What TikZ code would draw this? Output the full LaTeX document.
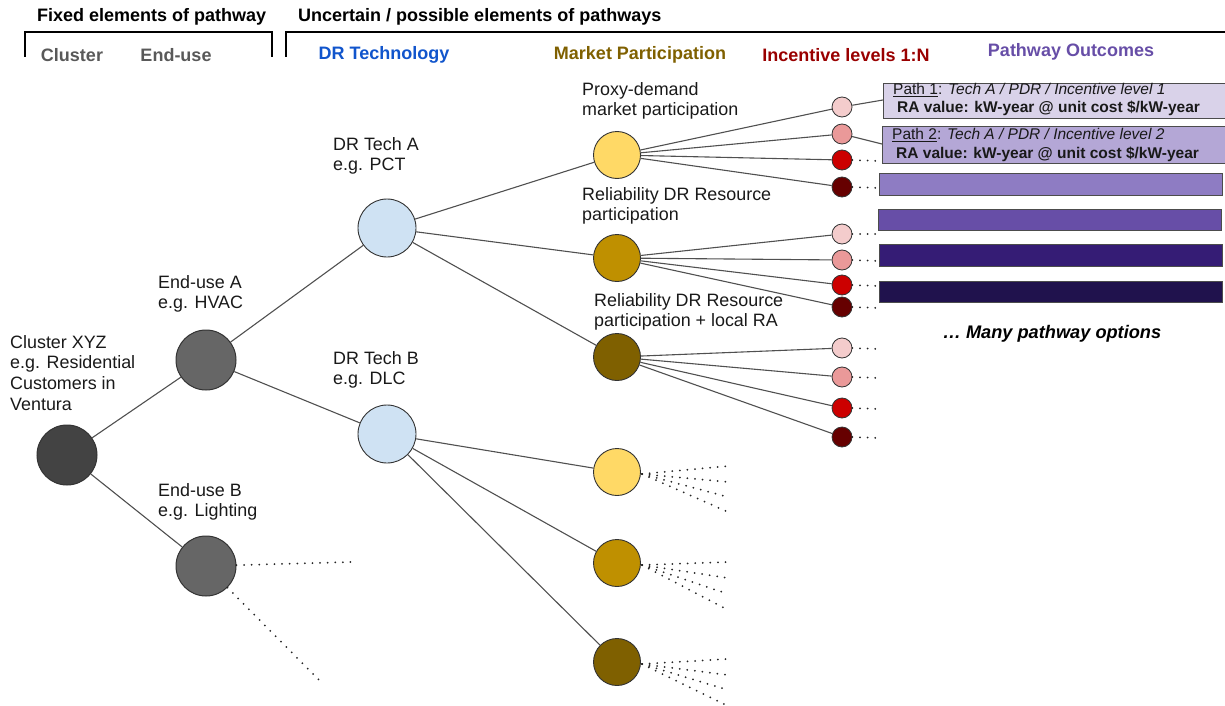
\documentclass[tikz,border=0pt]{standalone}
\usepackage{fontspec}
\setmainfont{Liberation Sans}
\definecolor{lnc}{HTML}{505050}
\definecolor{cCluster}{HTML}{434343}
\definecolor{cEnd}{HTML}{666666}
\definecolor{cTech}{HTML}{CFE2F3}
\definecolor{cM1}{HTML}{FFD966}
\definecolor{cM2}{HTML}{BF9000}
\definecolor{cM3}{HTML}{7F6000}
\definecolor{cI1}{HTML}{F4CCCC}
\definecolor{cI2}{HTML}{EA9999}
\definecolor{cI3}{HTML}{CC0000}
\definecolor{cI4}{HTML}{660000}
\definecolor{cP1}{HTML}{D9D2E9}
\definecolor{cP2}{HTML}{B4A7D6}
\definecolor{cP3}{HTML}{8E7CC3}
\definecolor{cP4}{HTML}{674EA7}
\definecolor{cP5}{HTML}{351C75}
\definecolor{cP6}{HTML}{20124D}
\definecolor{hGray}{HTML}{595959}
\definecolor{hBlue}{HTML}{1155CC}
\definecolor{hGold}{HTML}{7F6000}
\definecolor{hRed}{HTML}{990000}
\definecolor{hPurple}{HTML}{674EA7}
\begin{document}
\begin{tikzpicture}[x=1pt,y=-1pt,
  bigc/.style={circle,draw=black!80,line width=1pt,inner sep=0pt,minimum size=60pt},
  techc/.style={circle,draw=black!80,line width=0.9pt,inner sep=0pt,minimum size=58pt,fill=cTech},
  mkc/.style={circle,draw=black!80,line width=0.9pt,inner sep=0pt,minimum size=47pt},
  incc/.style={circle,draw=black!80,line width=0.8pt,inner sep=0pt,minimum size=20pt},
  conn/.style={draw=lnc,line width=1.1pt},
  dots/.style={draw=black!85,line width=2pt,line cap=round,dash pattern=on 0pt off 7.6pt},
  lbl/.style={anchor=north west,inner sep=0pt,align=left,font=\fontsize{17.9}{20.8}\selectfont,text=black!90},
  hdr/.style={inner sep=0pt,font=\fontsize{18}{21}\selectfont\bfseries},
  pbox/.style={draw=black!70,line width=0.9pt,anchor=north west,inner sep=0pt},
  ptxt/.style={anchor=west,inner sep=0pt,font=\fontsize{15.5}{18}\selectfont,text=black!90},
  bracket/.style={draw=black,line width=2pt}
]
\useasboundingbox (0,0) rectangle (1225,706);

% headers
\node[hdr,anchor=west] (hfixed) at (37,17) {Fixed elements of pathway};
\node[hdr,anchor=west] (hunc) at (298,17) {Uncertain / possible elements of pathways};
\draw[bracket] (25,57) -- (25,32) -- (272,32) -- (272,57);
\draw[bracket] (286,57) -- (286,32) -- (1230,32);
\node[hdr,text=hGray] (hcl) at (72,55) {Cluster};
\node[hdr,text=hGray] (heu) at (176,55) {End-use};
\node[hdr,text=hBlue] (hdr1) at (384,55) {DR Technology};
\node[hdr,text=hGold] (hmp) at (640,55) {Market Participation};
\node[hdr,text=hRed] (hil) at (846,55) {Incentive levels 1:N};
\node[hdr,text=hPurple] (hpo) at (1071,52) {Pathway Outcomes};

% main nodes
\node[bigc,fill=cCluster] (cl) at (67,455) {};
\node[bigc,fill=cEnd] (eua) at (206,360) {};
\node[bigc,fill=cEnd] (eub) at (206,566) {};
\node[techc] (ta) at (387,228) {};
\node[techc] (tb) at (387,434) {};
\node[mkc,fill=cM1] (ma1) at (617,155) {};
\node[mkc,fill=cM2] (ma2) at (617,258) {};
\node[mkc,fill=cM3] (ma3) at (617,357) {};
\node[mkc,fill=cM1] (mb1) at (617,472) {};
\node[mkc,fill=cM2] (mb2) at (617,563) {};
\node[mkc,fill=cM3] (mb3) at (617,662) {};

% incentive circles
\foreach \g/\ya/\yb/\yc/\yd in {1/107/134/160/187, 2/234/260/285/307, 3/348/377/408/437}{
  \node[incc,fill=cI1] (i\g a) at (842,\ya) {};
  \node[incc,fill=cI2] (i\g b) at (842,\yb) {};
  \node[incc,fill=cI3] (i\g c) at (842,\yc) {};
  \node[incc,fill=cI4] (i\g d) at (842,\yd) {};
}

% labels
\node[lbl] (lcl) at (10,335) {Cluster XYZ\\e.g. Residential\\Customers in\\Ventura};
\node[lbl] (leua) at (158,275) {End-use A\\e.g. HVAC};
\node[lbl] (leub) at (158,483) {End-use B\\e.g. Lighting};
\node[lbl] (lta) at (333,137) {DR Tech A\\e.g. PCT};
\node[lbl] (ltb) at (333,351) {DR Tech B\\e.g. DLC};
\node[lbl] (lm1) at (582,82) {Proxy-demand\\market participation};
\node[lbl] (lm2) at (582,187) {Reliability DR Resource\\participation};
\node[lbl] (lm3) at (594,293) {Reliability DR Resource\\participation + local RA};

% connectors
\draw[conn] (cl) -- (eua);
\draw[conn] (cl) -- (eub);
\draw[conn] (eua) -- (ta);
\draw[conn] (eua) -- (tb);
\draw[conn] (ta) -- (ma1);
\draw[conn] (ta) -- (ma2);
\draw[conn] (ta) -- (ma3);
\draw[conn] (tb) -- (mb1);
\draw[conn] (tb) -- (mb2);
\draw[conn] (tb) -- (mb3);
\foreach \g in {1,2,3}{
  \foreach \k in {a,b,c,d}{
    \draw[conn] (ma\g) -- (i\g\k);
  }
}

% path boxes
\node[pbox,fill=cP1,minimum width=342pt,minimum height=35pt] (p1) at (883,83) {};
\node[pbox,fill=cP2,minimum width=343pt,minimum height=37pt] (p2) at (882,126) {};
\node[pbox,fill=cP3,minimum width=343pt,minimum height=22pt] (p3) at (879,173) {};
\node[pbox,fill=cP4,minimum width=343pt,minimum height=21pt] (p4) at (878,209) {};
\node[pbox,fill=cP5,minimum width=343pt,minimum height=22pt] (p5) at (879,244) {};
\node[pbox,fill=cP6,minimum width=343pt,minimum height=21pt] (p6) at (879,281) {};
\node[ptxt] (p1t) at (893,90) {\underline{Path 1}: \itshape Tech A / PDR / Incentive level 1};
\node[ptxt,font=\fontsize{15.5}{18}\selectfont\bfseries] (p1v) at (897,108) {RA value: kW-year @ unit cost \$/kW-year};
\node[ptxt] (p2t) at (892,135) {\underline{Path 2}: \itshape Tech A / PDR / Incentive level 2};
\node[ptxt,font=\fontsize{15.5}{18}\selectfont\bfseries] (p2v) at (896,154) {RA value: kW-year @ unit cost \$/kW-year};
\draw[conn] (i1a) -- (p1.west |- 0,100);
\draw[conn] (i1b) -- (p2.west |- 0,144);
\node[inner sep=0pt,font=\fontsize{18.2}{21}\selectfont\bfseries\itshape] (many) at (1052,334) {\dots\ Many pathway options};

% dotted continuations
\coordinate (d1c) at (880,161);
\coordinate (d1d) at (880,188);
\draw[dots] (i1c.east) -- (d1c);
\draw[dots] (i1d.east) -- (d1d);
\foreach \k/\y in {a/234,b/261,c/286,d/308}{
  \coordinate (d2\k) at (880,\y);
  \draw[dots] (i2\k.east) -- (d2\k);
}
\foreach \k/\y in {a/349,b/378,c/409,d/438}{
  \coordinate (d3\k) at (880,\y);
  \draw[dots] (i3\k.east) -- (d3\k);
}
\coordinate (eb1) at (352,562);
\coordinate (eb2) at (323,684);
\draw[dots] (eub) -- (eb1);
\draw[dots] (eub) -- (eb2);
\foreach \m/\yy/\a/\b/\c/\d in {mb1/472/466/482/497/512, mb2/563/562/578/594/610, mb3/662/659/675/690/706}{
  \coordinate (\m s) at (642,\yy+2);
  \foreach \e in {\a,\b,\c,\d}{
    \draw[dots] (\m s) -- (728,\e);
  }
}
\end{tikzpicture}
\end{document}
